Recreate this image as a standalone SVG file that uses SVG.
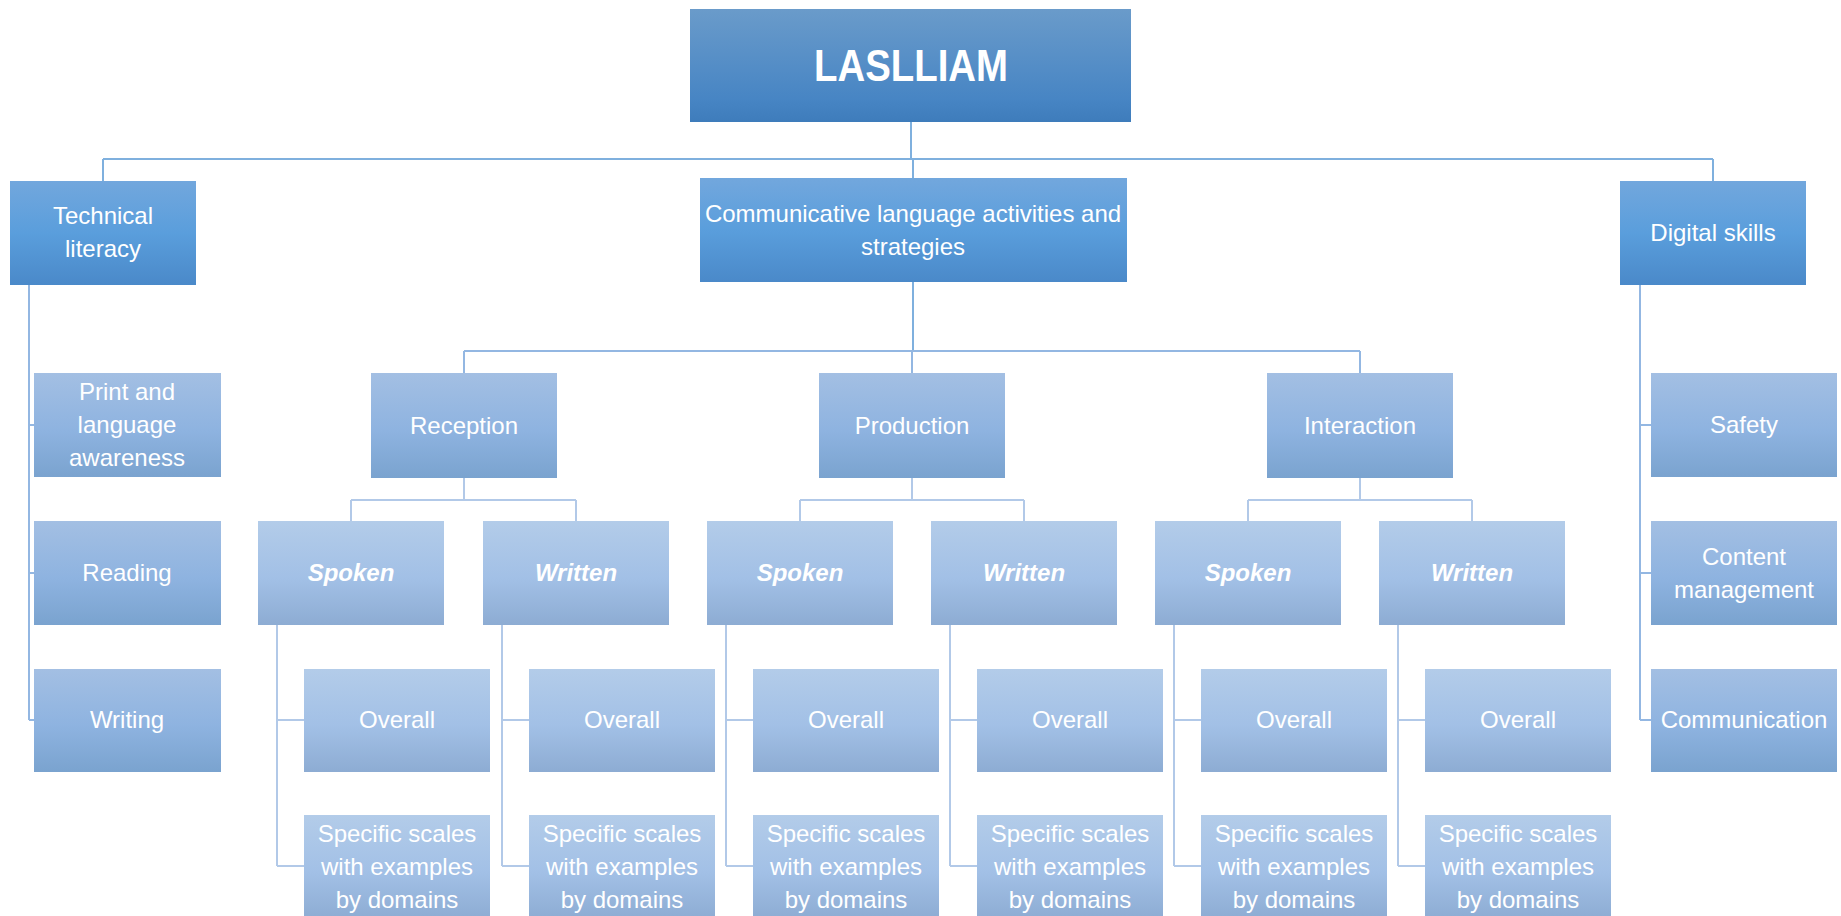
<svg xmlns="http://www.w3.org/2000/svg" width="1841" height="916" viewBox="0 0 1841 916">
<defs>
<linearGradient id="g0" x1="0" y1="0" x2="0" y2="1">
<stop offset="0" stop-color="#6A9BCA"/><stop offset="0.8" stop-color="#4785C4"/><stop offset="1" stop-color="#3E7CBB"/>
</linearGradient>
<linearGradient id="g1" x1="0" y1="0" x2="0" y2="1">
<stop offset="0" stop-color="#72A7DD"/><stop offset="0.5" stop-color="#5A9EDC"/><stop offset="1" stop-color="#4A89C9"/>
</linearGradient>
<linearGradient id="g2" x1="0" y1="0" x2="0" y2="1">
<stop offset="0" stop-color="#A3BFE3"/><stop offset="0.55" stop-color="#8EB3E0"/><stop offset="1" stop-color="#7AA3CF"/>
</linearGradient>
<linearGradient id="g3" x1="0" y1="0" x2="0" y2="1">
<stop offset="0" stop-color="#B3CCE9"/><stop offset="0.55" stop-color="#A2C0E6"/><stop offset="1" stop-color="#8DACD3"/>
</linearGradient>
</defs>
<style>
.l0{fill:url(#g0)}
.l1{fill:url(#g1)}
.l2{fill:url(#g2)}
.l3{fill:url(#g3)}
text{font-family:"Liberation Sans",Arial,sans-serif;font-size:24px;fill:#fff;text-anchor:middle}
.big{font-size:44px;font-weight:bold}
.bi{font-weight:bold;font-style:italic}
.c1{fill:none;stroke:#7FB0DE;stroke-width:2}
.c2{fill:none;stroke:#93B7E2;stroke-width:2}
.c3{fill:none;stroke:#B2C9E8;stroke-width:2}
</style>
<rect width="1841" height="916" fill="#fff"/>
<g id="connectors">
<path class="c1" d="M911 122V159M103 159H1713M103 159V181M913 159V178M1713 159V181"/>
<path class="c1" d="M913 282V351"/>
<path class="c2" d="M464 351H1360M464 351V373M912 351V373M1360 351V373"/>
<path class="c2" d="M29 285V720M29 425H34M29 573H34M29 720H34"/>
<path class="c2" d="M1640 285V720M1640 425H1651M1640 573H1651M1640 720H1651"/>
<path class="c3" d="M464 478V500M351 500H576M351 500V521M576 500V521"/>
<path class="c3" d="M912 478V500M800 500H1024M800 500V521M1024 500V521"/>
<path class="c3" d="M1360 478V500M1248 500H1472M1248 500V521M1472 500V521"/>
<path class="c3" d="M277 625V866M277 720H304M277 866H304"/>
<path class="c3" d="M502 625V866M502 720H529M502 866H529"/>
<path class="c3" d="M726 625V866M726 720H753M726 866H753"/>
<path class="c3" d="M950 625V866M950 720H977M950 866H977"/>
<path class="c3" d="M1174 625V866M1174 720H1201M1174 866H1201"/>
<path class="c3" d="M1398 625V866M1398 720H1425M1398 866H1425"/>
</g>
<g id="root"><rect class="l0" x="690" y="9" width="441" height="113"/><text class="big" x="911" y="81" textLength="194" lengthAdjust="spacingAndGlyphs">LASLLIAM</text></g>
<g id="technical"><rect class="l1" x="10" y="181" width="186" height="104"/><text x="103" y="224">Technical</text><text x="103" y="257">literacy</text></g>
<g id="communicative"><rect class="l1" x="700" y="178" width="427" height="104"/><text x="913" y="222">Communicative language activities and</text><text x="913" y="255">strategies</text></g>
<g id="digital"><rect class="l1" x="1620" y="181" width="186" height="104"/><text x="1713" y="241">Digital skills</text></g>
<g id="print"><rect class="l2" x="34" y="373" width="187" height="104"/><text x="127" y="400">Print and</text><text x="127" y="433">language</text><text x="127" y="466">awareness</text></g>
<g id="reading"><rect class="l2" x="34" y="521" width="187" height="104"/><text x="127" y="581">Reading</text></g>
<g id="writing"><rect class="l2" x="34" y="669" width="187" height="103"/><text x="127" y="728">Writing</text></g>
<g id="safety"><rect class="l2" x="1651" y="373" width="186" height="104"/><text x="1744" y="433">Safety</text></g>
<g id="content"><rect class="l2" x="1651" y="521" width="186" height="104"/><text x="1744" y="565">Content</text><text x="1744" y="598">management</text></g>
<g id="communication"><rect class="l2" x="1651" y="669" width="186" height="103"/><text x="1744" y="728">Communication</text></g>
<g id="reception"><rect class="l2" x="371" y="373" width="186" height="105"/><text x="464" y="434">Reception</text></g>
<g id="production"><rect class="l2" x="819" y="373" width="186" height="105"/><text x="912" y="434">Production</text></g>
<g id="interaction"><rect class="l2" x="1267" y="373" width="186" height="105"/><text x="1360" y="434">Interaction</text></g>
<g id="rec-spoken"><rect class="l3" x="258" y="521" width="186" height="104"/><text class="bi" x="351" y="581">Spoken</text></g>
<g id="rec-written"><rect class="l3" x="483" y="521" width="186" height="104"/><text class="bi" x="576" y="581">Written</text></g>
<g id="pro-spoken"><rect class="l3" x="707" y="521" width="186" height="104"/><text class="bi" x="800" y="581">Spoken</text></g>
<g id="pro-written"><rect class="l3" x="931" y="521" width="186" height="104"/><text class="bi" x="1024" y="581">Written</text></g>
<g id="int-spoken"><rect class="l3" x="1155" y="521" width="186" height="104"/><text class="bi" x="1248" y="581">Spoken</text></g>
<g id="int-written"><rect class="l3" x="1379" y="521" width="186" height="104"/><text class="bi" x="1472" y="581">Written</text></g>
<g id="rec-spoken-overall"><rect class="l3" x="304" y="669" width="186" height="103"/><text x="397" y="728">Overall</text></g>
<g id="rec-written-overall"><rect class="l3" x="529" y="669" width="186" height="103"/><text x="622" y="728">Overall</text></g>
<g id="pro-spoken-overall"><rect class="l3" x="753" y="669" width="186" height="103"/><text x="846" y="728">Overall</text></g>
<g id="pro-written-overall"><rect class="l3" x="977" y="669" width="186" height="103"/><text x="1070" y="728">Overall</text></g>
<g id="int-spoken-overall"><rect class="l3" x="1201" y="669" width="186" height="103"/><text x="1294" y="728">Overall</text></g>
<g id="int-written-overall"><rect class="l3" x="1425" y="669" width="186" height="103"/><text x="1518" y="728">Overall</text></g>
<g id="rec-spoken-specific"><rect class="l3" x="304" y="815" width="186" height="104"/><text x="397" y="842">Specific scales</text><text x="397" y="875">with examples</text><text x="397" y="908">by domains</text></g>
<g id="rec-written-specific"><rect class="l3" x="529" y="815" width="186" height="104"/><text x="622" y="842">Specific scales</text><text x="622" y="875">with examples</text><text x="622" y="908">by domains</text></g>
<g id="pro-spoken-specific"><rect class="l3" x="753" y="815" width="186" height="104"/><text x="846" y="842">Specific scales</text><text x="846" y="875">with examples</text><text x="846" y="908">by domains</text></g>
<g id="pro-written-specific"><rect class="l3" x="977" y="815" width="186" height="104"/><text x="1070" y="842">Specific scales</text><text x="1070" y="875">with examples</text><text x="1070" y="908">by domains</text></g>
<g id="int-spoken-specific"><rect class="l3" x="1201" y="815" width="186" height="104"/><text x="1294" y="842">Specific scales</text><text x="1294" y="875">with examples</text><text x="1294" y="908">by domains</text></g>
<g id="int-written-specific"><rect class="l3" x="1425" y="815" width="186" height="104"/><text x="1518" y="842">Specific scales</text><text x="1518" y="875">with examples</text><text x="1518" y="908">by domains</text></g>
</svg>
